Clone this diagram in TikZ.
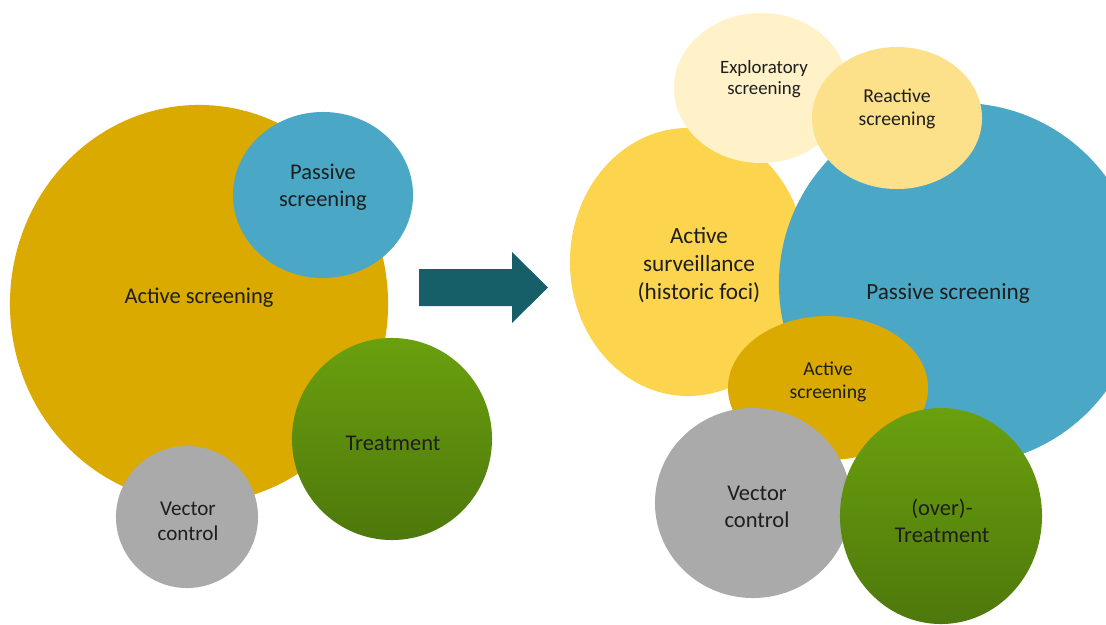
\documentclass[tikz,border=0pt]{standalone}
\usepackage{fontspec}
\setmainfont{Carlito}
\usetikzlibrary{shapes.geometric}

\definecolor{gold}{HTML}{DAAA00}
\definecolor{sky}{HTML}{4AA8C6}
\definecolor{leafTop}{HTML}{6AA00E}
\definecolor{leafBot}{HTML}{4E780C}
\definecolor{ash}{HTML}{AAAAAA}
\definecolor{arrowteal}{HTML}{165F69}
\definecolor{sun}{HTML}{FDD44E}
\definecolor{cream}{HTML}{FFF1C8}
\definecolor{butter}{HTML}{FDE08A}
\definecolor{ink}{HTML}{1E1E1E}

\tikzset{
  blob/.style 2 args={ellipse, inner sep=0pt, minimum width=#1*0.05cm, minimum height=#2*0.05cm},
  leaf/.style={top color=leafTop, bottom color=leafBot},
  lbl/.style={align=center, text=ink, font=\fontsize{16}{19}\selectfont},
  lblsmall/.style={align=center, text=ink, font=\fontsize{14}{16.5}\selectfont},
}

\begin{document}
\begin{tikzpicture}[x=0.025cm, y=-0.025cm]
      \clip (0,0) rectangle (1106,625);

      % before
      \node [blob={189}{199}, fill=gold] (actL) at (199,304) {};
      \node [blob={90}{83}, fill=sky] (passL) at (323,195) {};
      \node [blob={71}{71}, fill=ash] (vecL) at (187,517) {};
      \node [blob={100}{101}, leaf] (treatL) at (392,439) {};

      \node [lbl] (actLtxt) at (199,298) {Active screening};
      \node [lbl] (passLtxt) at (323,187) {Passive\\screening};
      \node [lbl] (treatLtxt) at (393,443) {Treatment};
      \node [lbl, font=\fontsize{15}{17.5}\selectfont] (vecLtxt) at (188,521) {Vector\\control};

      \fill [arrowteal] (419,269) -- (512,269) -- (512,252) -- (548,287.5) -- (512,323) -- (512,306) -- (419,306) -- cycle;

      % after
      \node [blob={118}{134}, fill=sun] (survR) at (688,262) {};
      \node [blob={181}{181}, fill=sky] (passR) at (960,284) {};
      \node [blob={87}{75}, fill=cream] (explR) at (761,88) {};
      \node [blob={85}{71}, fill=butter] (reacR) at (897,118) {};
      \node [blob={100}{72}, fill=gold] (actR) at (828,388) {};
      \node [blob={98}{95}, fill=ash] (vecR) at (753,503) {};
      \node [blob={101}{108}, leaf] (treatR) at (941,516) {};

      \node [lbl, font=\fontsize{16.5}{20}\selectfont] (survRtxt) at (699,265) {Active\\surveillance\\(historic foci)};
      \node [lbl, font=\fontsize{16.5}{20}\selectfont] (passRtxt) at (948,294) {Passive screening};
      \node [lblsmall, font=\fontsize{13.4}{15}\selectfont] (explRtxt) at (764,79) {Exploratory\\screening};
      \node [lblsmall] (reacRtxt) at (897,109) {Reactive\\screening};
      \node [lblsmall] (actRtxt) at (828,382) {Active\\screening};
      \node [lbl] (vecRtxt) at (757,507) {Vector\\control};
      \node [lbl] (treatRtxt) at (942,521) {(over)-\\Treatment};
\end{tikzpicture}
\end{document}
